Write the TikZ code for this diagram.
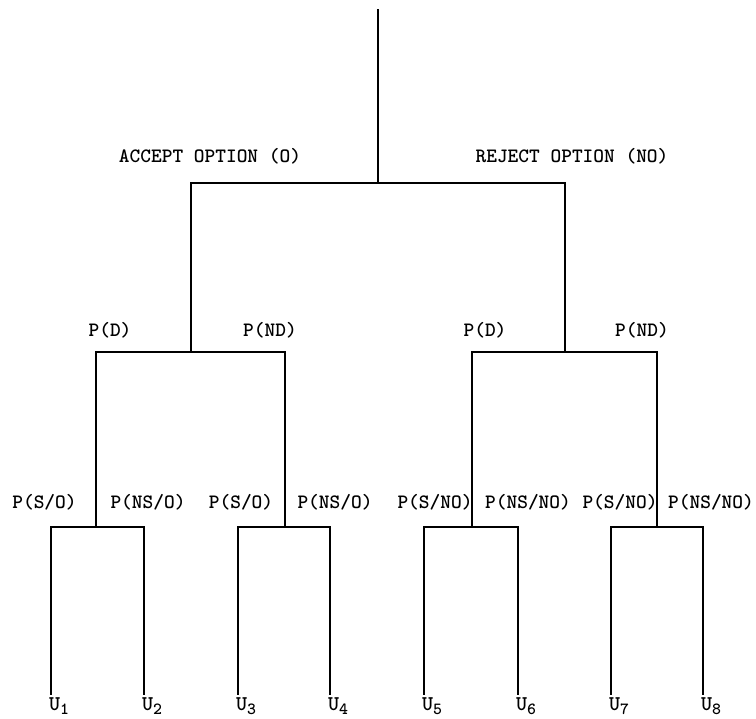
\documentclass[tikz,border=0pt]{standalone}
\begin{document}
\begin{tikzpicture}[x=1pt,y=-1pt,
  branch/.style={line width=2pt,line join=miter,line cap=rect},
  leafline/.style={line width=2.8pt,line cap=butt},
  lbl/.style={inner sep=0pt,font=\fontsize{20.4}{22}\selectfont\ttfamily\bfseries},
  ulbl/.style={inner sep=0pt,anchor=base west,font=\fontsize{21}{22}\selectfont\ttfamily\bfseries}]
\useasboundingbox (0,0) rectangle (756,719);
% junction points
\coordinate (top) at (378,10);
\coordinate (j0) at (378,183);
\coordinate (j1) at (191,352);
\coordinate (j2) at (565,352);
\coordinate (j11) at (96,527);
\coordinate (j12) at (285,527);
\coordinate (j21) at (472,527);
\coordinate (j22) at (657,527);
\foreach \n/\x in {1/51,2/144,3/238,4/330,5/424,6/518,7/611,8/703}
  \coordinate (l\n) at (\x,695);
% branches
\draw[branch] (top) -- (j0);
\draw[branch] (j1) |- (j0) -| (j2);
\draw[branch] (j11) |- (j1) -| (j12);
\draw[branch] (j21) |- (j2) -| (j22);
\draw[branch] (l1|-j11) -- (j11) -- (l2|-j11);
\draw[branch] (l3|-j12) -- (j12) -- (l4|-j12);
\draw[branch] (l5|-j21) -- (j21) -- (l6|-j21);
\draw[branch] (l7|-j22) -- (j22) -- (l8|-j22);
\foreach \n in {1,...,8} \draw[leafline] (l\n|-j11) -- (l\n);
% labels
\node[lbl] (acc) at (210,156) {ACCEPT OPTION (O)};
\node[lbl] (rej) at (572,156) {REJECT OPTION (NO)};
\node[lbl] (pd1) at (110,330) {P(D)};
\node[lbl] (pnd1) at (270,330) {P(ND)};
\node[lbl] (pd2) at (485,330) {P(D)};
\node[lbl] (pnd2) at (642,330) {P(ND)};
\node[lbl] (s1) at (44.5,502) {P(S/O)};
\node[lbl] (ns1) at (148,502) {P(NS/O)};
\node[lbl] (s2) at (241,502) {P(S/O)};
\node[lbl] (ns2) at (335,502) {P(NS/O)};
\node[lbl] (s3) at (435,502) {P(S/NO)};
\node[lbl] (ns3) at (528,502) {P(NS/NO)};
\node[lbl] (s4) at (620,502) {P(S/NO)};
\node[lbl] (ns4) at (711,502) {P(NS/NO)};
\foreach \n/\x in {1/51,2/144,3/238,4/330,5/424,6/518,7/611,8/703}
  \node[ulbl] (u\n) at (\x-2,710) {U\raisebox{-4pt}{\fontsize{17}{17}\selectfont\n}};
\end{tikzpicture}
\end{document}
